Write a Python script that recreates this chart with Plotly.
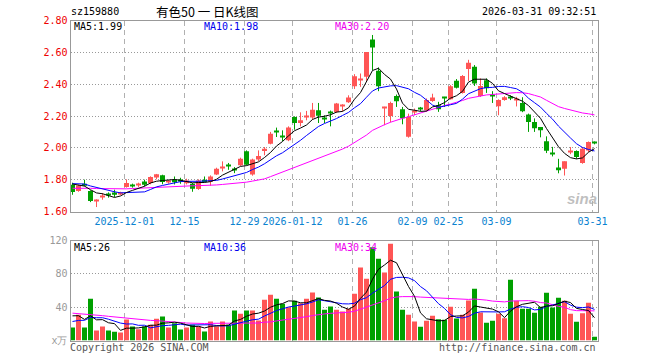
import plotly.graph_objects as go

# ---------------- data ----------------
opens = [1.768, 1.729, 1.775, 1.729, 1.668, 1.694, 1.706, 1.720, 1.711, 1.754,
         1.765, 1.767, 1.789, 1.779, 1.813, 1.827, 1.784, 1.800, 1.796, 1.778,
         1.774, 1.741, 1.800, 1.787, 1.833, 1.872, 1.885, 1.869, 1.890, 1.978,
         1.833, 1.926, 1.980, 2.026, 2.101, 2.072, 2.047, 2.194, 2.156, 2.193,
         2.190, 2.236, 2.184, 2.222, 2.225, 2.260, 2.286, 2.387, 2.428, 2.446,
         2.681, 2.484, 2.250, 2.200, 2.326, 2.242, 2.070, 2.224, 2.248, 2.236,
         2.295, 2.267, 2.317, 2.305, 2.421, 2.345, 2.495, 2.509, 2.325, 2.425,
         2.326, 2.262, 2.300, 2.317, 2.299, 2.282, 2.209, 2.163, 2.131, 2.042,
         1.964, 1.877, 1.868, 1.972, 1.980, 1.904, 1.984, 2.031]
highs = [1.781, 1.768, 1.800, 1.733, 1.676, 1.716, 1.720, 1.737, 1.724, 1.802,
         1.775, 1.781, 1.800, 1.821, 1.836, 1.831, 1.796, 1.820, 1.812, 1.806,
         1.780, 1.802, 1.820, 1.827, 1.875, 1.915, 1.905, 1.879, 1.938, 1.984,
         1.932, 1.984, 2.005, 2.100, 2.127, 2.110, 2.135, 2.198, 2.223, 2.232,
         2.282, 2.282, 2.204, 2.234, 2.282, 2.274, 2.330, 2.463, 2.467, 2.602,
         2.709, 2.505, 2.258, 2.290, 2.335, 2.257, 2.215, 2.247, 2.257, 2.310,
         2.340, 2.289, 2.320, 2.394, 2.432, 2.457, 2.553, 2.520, 2.436, 2.436,
         2.356, 2.305, 2.325, 2.330, 2.320, 2.318, 2.215, 2.185, 2.131, 2.072,
         2.006, 1.931, 1.915, 2.005, 1.984, 2.005, 2.040, 2.040]
lows = [1.705, 1.724, 1.758, 1.659, 1.628, 1.674, 1.687, 1.691, 1.703, 1.750,
        1.750, 1.754, 1.758, 1.771, 1.802, 1.771, 1.775, 1.770, 1.774, 1.770,
        1.724, 1.736, 1.783, 1.762, 1.829, 1.852, 1.862, 1.841, 1.886, 1.890,
        1.825, 1.917, 1.953, 2.022, 2.068, 2.042, 2.042, 2.114, 2.135, 2.173,
        2.177, 2.156, 2.156, 2.135, 2.219, 2.229, 2.282, 2.370, 2.383, 2.421,
        2.488, 2.356, 2.142, 2.160, 2.257, 2.148, 2.064, 2.205, 2.230, 2.230,
        2.289, 2.226, 2.257, 2.303, 2.373, 2.341, 2.420, 2.389, 2.320, 2.345,
        2.282, 2.205, 2.296, 2.300, 2.260, 2.224, 2.100, 2.100, 2.066, 1.967,
        1.946, 1.840, 1.826, 1.960, 1.931, 1.900, 1.973, 2.022]
closes = [1.722, 1.764, 1.762, 1.666, 1.670, 1.696, 1.704, 1.705, 1.713, 1.779,
          1.763, 1.769, 1.768, 1.817, 1.834, 1.785, 1.786, 1.783, 1.794, 1.795,
          1.743, 1.795, 1.785, 1.820, 1.869, 1.874, 1.883, 1.858, 1.932, 1.894,
          1.926, 1.949, 1.995, 2.089, 2.099, 2.066, 2.127, 2.156, 2.173, 2.195,
          2.240, 2.202, 2.182, 2.220, 2.278, 2.262, 2.316, 2.450, 2.430, 2.602,
          2.631, 2.387, 2.256, 2.282, 2.292, 2.186, 2.194, 2.228, 2.246, 2.301,
          2.316, 2.242, 2.315, 2.387, 2.377, 2.452, 2.535, 2.404, 2.388, 2.375,
          2.323, 2.301, 2.318, 2.315, 2.301, 2.230, 2.163, 2.123, 2.110, 1.981,
          1.962, 1.859, 1.915, 1.974, 1.942, 1.994, 2.036, 2.029]
volumes = [15.6, 30.8, 15.6, 50, 12, 16.8, 12, 10.4, 9.6, 25.2,
           16.8, 13.6, 16.8, 18.8, 26, 28.8, 15.6, 20.8, 13.2, 15.6,
           18.8, 16.8, 10.8, 22.8, 16.8, 22.8, 18.8, 36, 32, 36,
           36, 24, 48.8, 54.8, 50, 44, 40, 47.6, 44.8, 50,
           57.6, 51.6, 36.8, 40.8, 36.8, 34.8, 38, 56, 87.6, 74,
           112, 98, 81.6, 116, 58.8, 36.8, 30.8, 22.8, 16.4, 23.6,
           29.6, 25.6, 24.8, 40.4, 26.4, 30.8, 48, 62, 33.6, 21.2,
           23.6, 32, 26.8, 72.8, 47.6, 38, 38, 33.2, 40.4, 57.2,
           39.6, 51.2, 47.6, 32, 22.4, 32.8, 45.2, 4.4]
# sessions before the first visible day (estimated from where the MA lines start)
prior_closes = [1.72, 1.73, 1.74, 1.72, 1.71, 1.73, 1.75, 1.74, 1.72, 1.70,
                1.71, 1.73, 1.74, 1.72, 1.73, 1.75, 1.76, 1.74, 1.73, 1.75,
                1.77, 1.78, 1.79, 1.77, 1.78, 1.80, 1.79, 1.78, 1.77]
prior_volumes = [45, 50, 42, 38, 40, 36, 35, 30, 48, 42,
                 38, 34, 30, 36, 40, 35, 32, 38, 35, 32,
                 18, 14, 16, 15, 17, 30, 38, 28, 36.4]
tick_index = [9, 19, 29, 37, 47, 57, 63, 71, 87]
tick_text = ["2025-12-01", "12-15", "12-29", "2026-01-12", "01-26",
             "02-09", "02-25", "03-09", "03-31"]
price_ticks = [1.60, 1.80, 2.00, 2.20, 2.40, 2.60, 2.80]
vol_ticks = [0, 40, 80, 120]
vol_tick_text = ["x万", "40", "80", "120"]
# legend read-outs as printed on the reference
price_ma_labels = ["MA5:1.99", "MA10:1.98", "MA30:2.20"]
vol_ma_labels = ["MA5:26", "MA10:36", "MA30:34"]

# ---------------- helpers ----------------
W, H = 660, 360
RED = "#ff5555"
GREEN = "#00a000"
MONO = "DejaVu Sans Mono"
MA_COLORS = ["#000000", "#0000ee", "#ee00ee"]


def moving_avg(series, prior, n):
    full = list(prior) + list(series)
    off = len(prior)
    out = []
    for i in range(len(series)):
        j = off + i
        win = full[max(0, j - n + 1): j + 1]
        out.append(sum(win) / len(win))
    return out


def px(x):
    return x / W


def py(y):
    return 1 - y / H


n = len(closes)
idx = list(range(n))
up = [c >= o for o, c in zip(opens, closes)]
colors = [RED if u else GREEN for u in up]

L, R = 70.5, 597.5          # plot area left/right in px
C0 = 72.5                   # centre of first candle in px
STEP = 6.0
xr = [(L - C0) / STEP, (R - C0) / STEP]
top_dom = [py(211.5), py(20.5)]
vol_dom = [py(340.5), py(240.5)]
min_body = 0.2 / 31.8

fig = go.Figure()

# wicks
for col, flag in ((RED, True), (GREEN, False)):
    xs, ys = [], []
    for i in idx:
        if up[i] == flag:
            xs += [i, i, None]
            ys += [lows[i], highs[i], None]
    fig.add_trace(go.Scatter(x=xs, y=ys, mode="lines",
                             line=dict(color=col, width=1),
                             hoverinfo="skip", xaxis="x", yaxis="y"))

# bodies
base = [min(o, c) for o, c in zip(opens, closes)]
height = [max(abs(c - o), min_body) for o, c in zip(opens, closes)]
fig.add_trace(go.Bar(x=idx, y=height, base=base, width=5 / 6,
                     marker=dict(color=colors, line=dict(width=0)),
                     xaxis="x", yaxis="y"))

# price MAs
for nma, col in ((30, "#ff00ff"), (10, "#0000ff"), (5, "#000000")):
    fig.add_trace(go.Scatter(x=idx, y=moving_avg(closes, prior_closes, nma),
                             mode="lines", line=dict(color=col, width=1),
                             xaxis="x", yaxis="y"))

# volume
fig.add_trace(go.Bar(x=idx, y=volumes, width=5 / 6,
                     marker=dict(color=colors, line=dict(width=0)),
                     xaxis="x2", yaxis="y2"))
for nma, col in ((30, "#ff00ff"), (10, "#0000ff"), (5, "#000000")):
    fig.add_trace(go.Scatter(x=idx, y=moving_avg(volumes, prior_volumes, nma),
                             mode="lines", line=dict(color=col, width=1),
                             xaxis="x2", yaxis="y2"))

grid_x = [i - 1 / 3 for i in tick_index]
common_x = dict(range=xr, domain=[px(L), px(R)], tickvals=grid_x,
                showgrid=True, gridcolor="#b0b0b0", griddash="5px,4px",
                gridwidth=1, showline=True, mirror=True, linecolor="#999999",
                linewidth=1, zeroline=False, ticks="", fixedrange=True,
                automargin=False)

fig.update_layout(
    width=W, height=H, margin=dict(l=0, r=0, t=0, b=0),
    paper_bgcolor="white", plot_bgcolor="white", showlegend=False,
    barmode="overlay",
    xaxis=dict(**common_x, anchor="y", ticktext=tick_text,
               tickfont=dict(family=MONO, size=10, color="#0a82d0")),
    xaxis2=dict(**common_x, anchor="y2", showticklabels=False),
    yaxis=dict(domain=top_dom, range=[1.6, 2.8], tickvals=price_ticks,
               ticktext=["%.2f" % v for v in price_ticks],
               tickfont=dict(family=MONO, size=10, color="#ee0000"),
               showgrid=True, gridcolor="#999999", griddash="1px,2px",
               showline=True, mirror=True, linecolor="#999999", linewidth=1,
               zeroline=False, ticks="", fixedrange=True, automargin=False,
               anchor="x"),
    yaxis2=dict(domain=vol_dom, range=[0, 120], tickvals=vol_ticks,
                ticktext=vol_tick_text,
                tickfont=dict(family=MONO, size=10, color="#999999"),
                showgrid=True, gridcolor="#999999", griddash="1px,2px",
                showline=True, mirror=True, linecolor="#999999", linewidth=1,
                zeroline=False, ticks="", fixedrange=True, automargin=False,
                anchor="x2"),
)


def note(text, x, y, anchor="left", color="#000000", size=10, family=MONO, **kw):
    fig.add_annotation(text=text, x=px(x), y=py(y), xref="paper", yref="paper",
                       xanchor=anchor, yanchor="middle", showarrow=False,
                       font=dict(family=family, size=size, color=color),
                       borderpad=0, **kw)


note("sz159880", 70, 12)
note("有色50 一 日K线图", 207, 11.5, anchor="center", size=12.5,
     family="Noto Sans CJK SC")
note("2026-03-31 09:32:51", 597, 12, anchor="right")

for lab, x, col in zip(price_ma_labels, (73, 203, 334), MA_COLORS):
    note(lab, x, 27, color=col)
for lab, x, col in zip(vol_ma_labels, (73, 203, 334), MA_COLORS):
    note(lab, x, 247, color=col)

note("Copyright 2026 SINA.COM", 69, 347, color="#555555")
note("http://finance.sina.com.cn", 597, 347, anchor="right", color="#555555")
note("<b><i>sina</i></b>", 582, 198, anchor="center", size=15,
     family="Arial", color="rgba(170,170,170,0.75)")

fig.write_html("out.html", config={"displayModeBar": False})
